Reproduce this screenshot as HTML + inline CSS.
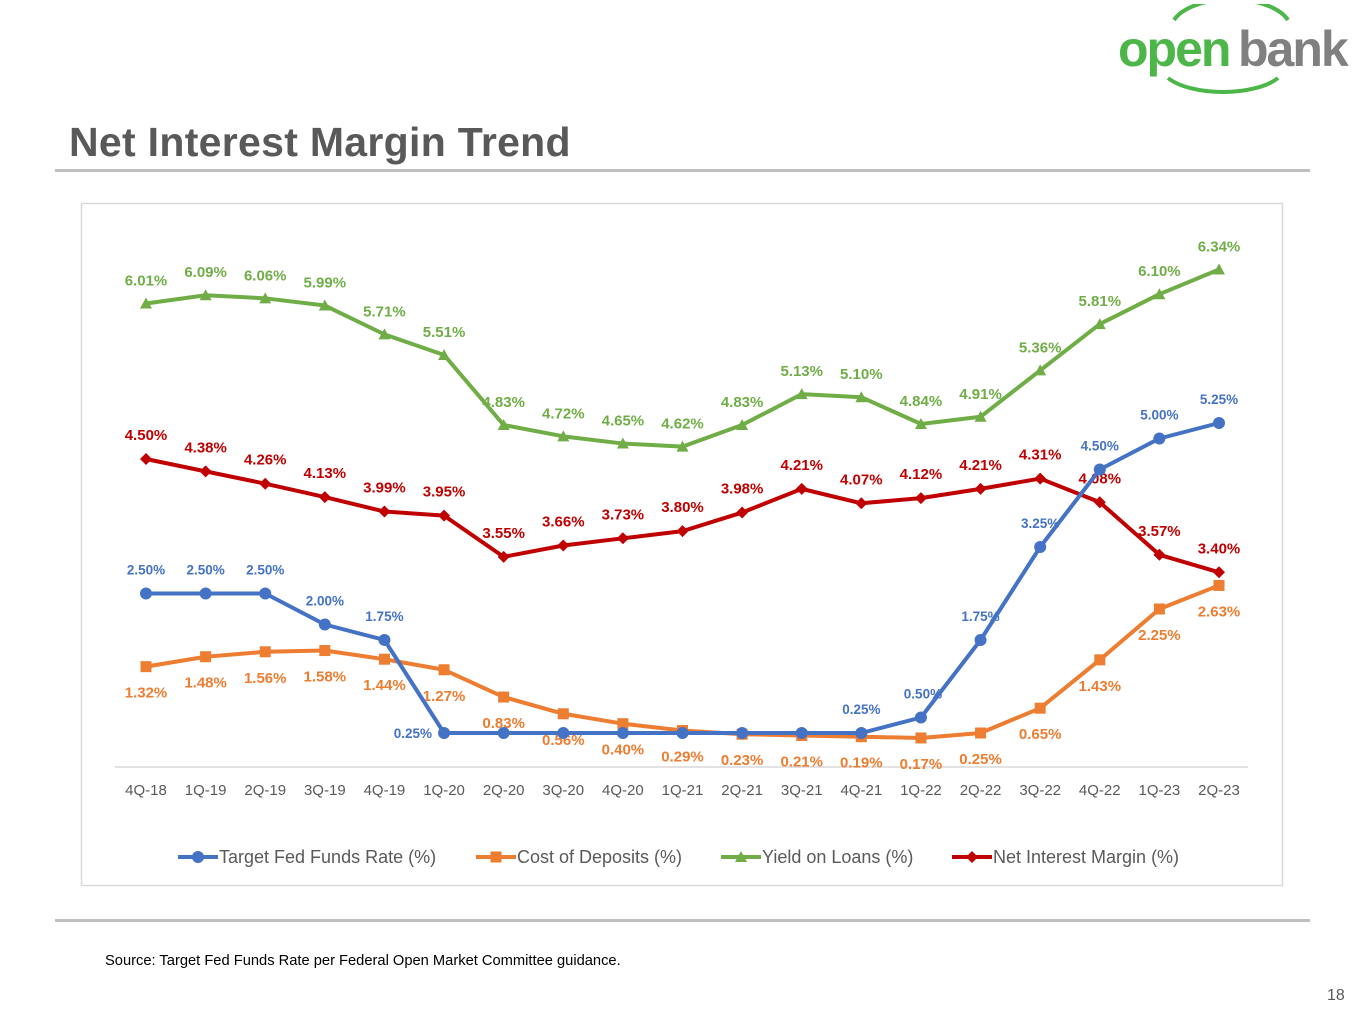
<!DOCTYPE html>
<html><head><meta charset="utf-8">
<style>
body{margin:0;width:1365px;height:1024px;background:#fff;position:relative;overflow:hidden;font-family:"Liberation Sans",sans-serif}
.abs{position:absolute}
</style></head>
<body>
<div class="abs" style="left:1112px;top:4px;width:250px;height:92px">
<svg width="250" height="92">
<path d="M62 16 A60 30 0 0 1 176 16" fill="none" stroke="#4cb648" stroke-width="4"/>
<path d="M56 74 A62 26 0 0 0 166 74" fill="none" stroke="#4cb648" stroke-width="4"/>
<text x="6" y="62" font-family="Liberation Sans" font-weight="bold" font-size="50" fill="#4cb648" letter-spacing="-2">open</text>
<text x="126" y="62" font-family="Liberation Sans" font-weight="bold" font-size="50" fill="#808080" letter-spacing="-2">bank</text>
</svg></div>
<div class="abs" style="left:69px;top:119px;font-size:41px;font-weight:bold;color:#595959;letter-spacing:0.3px">Net Interest Margin Trend</div>
<div class="abs" style="left:55px;top:169px;width:1255px;height:3px;background:#bfbfbf"></div>
<div class="abs" style="left:55px;top:919px;width:1255px;height:3px;background:#bfbfbf"></div>
<div class="abs" style="left:105px;top:953px;font-size:14.7px;color:#000">Source: Target Fed Funds Rate per Federal Open Market Committee guidance.</div>
<div class="abs" style="left:1327px;top:987px;font-size:16px;color:#595959">18</div>

<svg class="abs" id="chart" style="left:0;top:0" width="1365" height="1024"></svg>
<script>
const categories=["4Q-18","1Q-19","2Q-19","3Q-19","4Q-19","1Q-20","2Q-20","3Q-20","4Q-20","1Q-21","2Q-21","3Q-21","4Q-21","1Q-22","2Q-22","3Q-22","4Q-22","1Q-23","2Q-23"];
const fedFunds=[2.50,2.50,2.50,2.00,1.75,0.25,0.25,0.25,0.25,0.25,0.25,0.25,0.25,0.50,1.75,3.25,4.50,5.00,5.25];
const fedLabeled=[1,1,1,1,1,1,0,0,0,0,0,0,1,1,1,1,1,1,1];
const costDeposits=[1.32,1.48,1.56,1.58,1.44,1.27,0.83,0.56,0.40,0.29,0.23,0.21,0.19,0.17,0.25,0.65,1.43,2.25,2.63];
const yieldLoans=[6.01,6.09,6.06,5.99,5.71,5.51,4.83,4.72,4.65,4.62,4.83,5.13,5.10,4.84,4.91,5.36,5.81,6.10,6.34];
const nim=[4.50,4.38,4.26,4.13,3.99,3.95,3.55,3.66,3.73,3.80,3.98,4.21,4.07,4.12,4.21,4.31,4.08,3.57,3.40];

const NS="http://www.w3.org/2000/svg";
const svg=document.getElementById('chart');
function mk(t,a,p){const e=document.createElementNS(NS,t);for(const k in a)e.setAttribute(k,a[k]);(p||svg).appendChild(e);return e;}
const x=i=>146+i*(1219-146)/(categories.length-1);
const yP=v=>922.5-103*v;   // primary axis (yield, NIM)
const yS=v=>748.5-62*v;    // secondary axis (fed funds, deposits)

const frame=mk('rect',{x:81.5,y:203.5,width:1201,height:682,fill:'#fff',stroke:'#d9d9d9','stroke-width':1.5});


const ax=mk('line',{x1:115,y1:767,x2:1248,y2:767,stroke:'#d9d9d9','stroke-width':1.5});


categories.forEach((c,i)=>{
 const t=mk('text',{x:x(i),y:795,'text-anchor':'middle','font-size':15,fill:'#595959','font-family':'Liberation Sans'});
 t.textContent=c;
 
 
});

function marker(type,cx,cy,col){
 if(type==='circle')return mk('circle',{cx,cy,r:6,fill:col});
 if(type==='square')return mk('rect',{x:cx-5.5,y:cy-5.5,width:11,height:11,fill:col});
 if(type==='tri')return mk('polygon',{points:`${cx},${cy-6} ${cx-6},${cy+5} ${cx+6},${cy+5}`,fill:col});
 return mk('polygon',{points:`${cx},${cy-6} ${cx+6},${cy} ${cx},${cy+6} ${cx-6},${cy}`,fill:col});
}
function series(vals,yf,col,type,name,lblDy,fs,labeled){
 const pts=vals.map((v,i)=>x(i)+','+yf(v)).join(' ');
 const pl=mk('polyline',{points:pts,fill:'none',stroke:col,'stroke-width':4,'stroke-linejoin':'round'});
 
 
 vals.forEach((v,i)=>{
  const m=marker(type,x(i),yf(v),col);
  
  
  if(labeled&&!labeled[i])return;
  let lx=x(i),ly=yf(v)+lblDy,anc='middle';
  if(name==='fed-funds'&&i===5){lx=x(i)-12;ly=yf(v)+5;anc='end';}
  if(name==='fed-funds'&&i===13){lx=x(i)+2;}
  const t=mk('text',{x:lx,y:ly,'text-anchor':anc,'font-size':fs,'font-weight':'bold',fill:col,'font-family':'Liberation Sans'});
  t.textContent=v.toFixed(2)+'%';
  
  
 });
}
series(yieldLoans,yP,'#70ad47','tri','yield-on-loans',-18,15);
series(nim,yP,'#c00000','diamond','net-interest-margin',-19,15);
series(costDeposits,yS,'#ed7d31','square','cost-of-deposits',31,15);
series(fedFunds,yS,'#4472c4','circle','fed-funds',-19,13.5,fedLabeled);

const legend=[["Target Fed Funds Rate (%)",'#4472c4','circle',178],["Cost of Deposits (%)",'#ed7d31','square',476],["Yield on Loans (%)",'#70ad47','tri',721],["Net Interest Margin (%)",'#c00000','diamond',952]];
legend.forEach(([lab,col,type,lx])=>{
 const g=mk('g',{});
 
 
 mk('line',{x1:lx,y1:857,x2:lx+40,y2:857,stroke:col,'stroke-width':4},g);
 const m=marker(type,lx+20,857,col);g.appendChild(m);
 const t=mk('text',{x:lx+41,y:863,'font-size':18,fill:'#595959','font-family':'Liberation Sans'},g);
 t.textContent=lab;
});
</script>
</body></html>
